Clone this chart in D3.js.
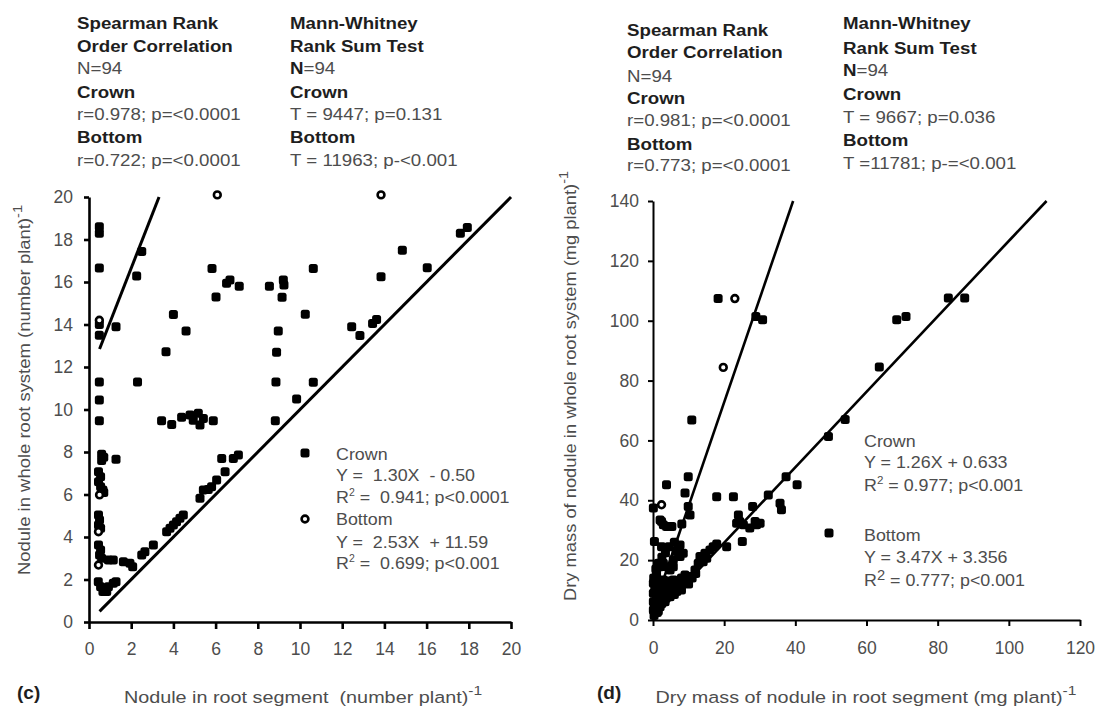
<!DOCTYPE html>
<html>
<head>
<meta charset="utf-8">
<script src="https://cdn.jsdelivr.net/npm/d3@7"></script>
<style>
  body { margin: 0; background: #fff; }
  text { font-family: Arial, "Liberation Sans", sans-serif; }
</style>
</head>
<body>
<script>
// ---- panel (c): nodule number ----
var cTicks = [0, 2, 4, 6, 8, 10, 12, 14, 16, 18, 20];
// filled markers (Crown)
var cCrown = [
  [0.49,18.6],[0.49,18.3],[0.49,16.66],[0.49,14.0],[0.49,13.5],[0.49,11.3],[0.49,10.45],[0.49,9.47],
  [1.28,13.9],[2.26,16.28],[2.5,17.43],[2.3,11.3],
  [5.83,16.64],[6.02,15.3],[6.52,15.94],[6.68,16.1],[7.12,15.8],[8.55,15.8],[9.21,16.1],[9.24,15.86],
  [9.15,15.28],[8.97,13.7],[8.89,12.7],[8.86,11.3],[8.83,9.47],[9.84,10.49],
  [3.65,12.72],[4.0,14.47],[4.6,13.7],
  [3.44,9.47],[3.92,9.3],[4.39,9.63],[4.79,9.74],[4.94,9.5],[5.18,9.82],[5.26,9.27],[5.42,9.58],[5.89,9.47],
  [14.85,17.5],[10.63,16.64],[13.84,16.25],[16.03,16.67],[17.6,18.3],[17.93,18.56],[10.25,14.48],
  [12.45,13.9],[12.84,13.48],[13.44,14.05],[13.63,14.24],[10.63,11.28],
  [0.6,7.9],[0.7,7.75],[0.6,7.6],[1.28,7.66],
  [0.45,7.07],[0.55,6.84],[0.45,6.6],[0.55,6.37],[0.66,6.21],[0.7,6.09],
  [0.45,5.04],[0.5,4.8],[0.45,4.56],[0.55,4.41],
  [0.45,3.62],[0.55,3.39],[0.5,3.15],[0.6,3.0],[0.92,2.92],[1.15,2.92],
  [0.44,1.9],[0.55,1.66],[0.66,1.43],[0.92,1.66],[1.15,1.82],[1.28,1.9],[0.84,1.43],
  [1.63,2.84],[1.94,2.76],[2.07,2.6],[2.5,3.15],[2.65,3.31],[3.05,3.62],
  [3.68,4.25],[3.84,4.41],[4.0,4.56],[4.15,4.72],[4.31,4.88],[4.47,5.04],
  [5.26,5.82],[5.42,6.21],[5.65,6.24],[5.81,6.37],[6.05,6.68],[6.45,7.07],[6.29,7.7],[6.84,7.7],[7.08,7.86]
];
// open markers (Bottom)
var cBottom = [[6.08,20.1],[13.84,20.1],[0.49,14.2],[0.5,5.98],[0.45,4.25],[0.45,2.68]];
// fitted lines, end points
var cLineCrown = [[0.5,0.5],[20,20]];
var cLineBottom = [[0.5,12.85],[3.32,20]];

// ---- panel (d): nodule dry mass ----
var dxTicks = [0, 20, 40, 60, 80, 100, 120];
var dyTicks = [0, 20, 40, 60, 80, 100, 120, 140];
var dCrown = [
  [18.3,107.4],[28.9,101.4],[30.8,100.3],[10.9,66.8],
  [3.8,45.2],[9.9,47.9],[9.0,42.4],[0.1,37.4],[10.4,35.1],[8.1,32.1],[9.9,37.9],
  [2.4,32.9],[3.8,31.2],[2.9,31.8],[5.3,31.2],[2.0,33.4],[0.4,26.2],[2.4,24.5],
  [7.6,25.1],[7.1,22.8],[8.5,22.3],[7.6,21.2],[5.7,20.1],[3.8,17.8],[2.9,19.0],[4.8,16.7],[5.7,17.8],
  [17.9,41.2],[22.6,41.2],[24.0,35.1],[25.1,26.2],[28.0,37.9],
  [23.5,32.3],[24.4,32.9],[25.4,31.8],[27.2,30.7],[29.1,31.8],[30.1,32.3],[28.7,32.9],
  [35.7,39.0],[36.1,36.8],[32.4,41.8],[37.4,47.9],[40.5,45.2],
  [49.3,61.3],[54,67],[63.6,84.5],[68.5,100.3],[71.1,101.4],[83,107.6],[87.6,107.6],
  [13.2,21.2],[14.6,22.3],[16,23.4],[16.9,24.5],[17.9,25.4],[20.7,24.5],[12.7,19.0],[11.8,16.7],
  [10.4,14.5],[9,12.3],[7.6,11.1],[6.7,9.5],[4.8,7.8],[3.4,6.1],[2.0,4.4],[0.6,2.8],[14.1,19.5],[15.1,20.6],
  [0.1,12.3],[1,11.1],[2.9,13.4],[5.7,13.4],[7.6,13.4],[9.5,13.9],[3.8,11.1],[5.7,11.1],
  [0.1,8.9],[1.5,8.9],[0.1,6.1],[0.1,3.3],[1.0,15.6],[2,17.8],
  [1.5,5.2],[3,9],[4.5,10],[6,8.5],[8,10],[10,12],[11,14],[12,15.5],[2,7],[0.5,10],[1,13.5],[0.3,1.5],[1.2,2.5],
  [0.5,5],[1,7],[2,10],[3,11.5],[4,13],[4,9],[5,10.5],[6,12],[7,12.5],[8,14],[9,15],[1.5,3],[2.5,5.5],
  [3.5,7.5],[5,9],[6.5,10.5],[0.2,14],[0.8,17],[1.5,19],[2.5,21],[3.5,22.5],[4.5,24.5],[6,26],[6.5,23]
];
var dBottom = [[23.0,107.4],[19.75,84.4],[2.4,38.5]];
var dLineCrown = [[0,0.633],[110.6,140]];
var dLineBottom = [[0,3.356],[39.38,140]];

var svg = d3.select("body").append("svg")
  .attr("width", 1104).attr("height", 709);

var grey = "#4d4d4d", dark = "#1e1e1e";

function panel(opt) {
  var x = d3.scaleLinear().domain(opt.xd).range(opt.xr);
  var y = d3.scaleLinear().domain(opt.yd).range(opt.yr);
  var g = svg.append("g");

  var ax = g.append("g").attr("transform", `translate(0,${opt.yr[0]})`)
    .call(d3.axisBottom(x).tickValues(opt.xt).tickSize(opt.xts).tickSizeOuter(0).tickPadding(opt.xpad));
  var ay = g.append("g").attr("transform", `translate(${opt.xr[0]},0)`)
    .call(d3.axisLeft(y).tickValues(opt.yt).tickSize(5).tickSizeOuter(0).tickPadding(opt.ypad));
  [ax, ay].forEach(function(a) {
    a.select(".domain").attr("stroke", "#000").attr("stroke-width", opt.aw);
    a.selectAll(".tick line").attr("stroke", "#000").attr("stroke-width", opt.aw);
    a.selectAll(".tick text").attr("fill", grey).attr("font-size", 17.5)
      .attr("font-family", "Arial, 'Liberation Sans', sans-serif");
  });

  var line = d3.line().x(d => x(d[0])).y(d => y(d[1]));
  [opt.l1, opt.l2].forEach(function(l) {
    g.append("path").attr("d", line(l)).attr("fill", "none")
      .attr("stroke", "#000").attr("stroke-width", opt.lw);
  });

  g.selectAll(".pf").data(opt.filled).enter().append("rect")
    .attr("x", d => x(d[0]) - 4.5).attr("y", d => y(d[1]) - 4.5)
    .attr("width", 9).attr("height", 9).attr("rx", 2.5).attr("fill", "#000");
  g.selectAll(".po").data(opt.open).enter().append("circle")
    .attr("cx", d => x(d[0])).attr("cy", d => y(d[1])).attr("r", 3.4)
    .attr("fill", "#fff").attr("stroke", "#000").attr("stroke-width", 2.6);
  return {x: x, y: y};
}

panel({xd: [0, 20], xr: [89, 511], yd: [0, 20], yr: [622, 197], xt: cTicks, yt: cTicks,
  xts: 7, xpad: 14, ypad: 11, aw: 2.6, lw: 3, l1: cLineCrown, l2: cLineBottom,
  filled: cCrown, open: cBottom});
panel({xd: [0, 120], xr: [653, 1080], yd: [0, 140], yr: [620, 201], xt: dxTicks, yt: dyTicks,
  xts: 6, xpad: 16, ypad: 9, aw: 2, lw: 2.6, l1: dLineCrown, l2: dLineBottom,
  filled: dCrown, open: dBottom});

// text helper; the source figure's lettering is a little wider than Arial, hence sx
function block(x, ys, items, sx) {
  items.forEach(function(it, i) {
    var t = svg.append("text").attr("font-size", 17)
      .attr("transform", `translate(${x},${ys[i]}) scale(${sx},1)`)
      .attr("xml:space", "preserve").style("white-space", "pre");
    it.forEach(function(p) {
      var s = t.append("tspan").text(p.t)
        .attr("fill", p.b ? dark : grey).attr("font-weight", p.b ? "bold" : "normal");
      if (p.sup) s.attr("font-size", p.sup).attr("dy", p.dy || -7);
      if (p.down) s.attr("dy", p.down);
    });
  });
}
var B = t => ({t: t, b: true}), N = t => ({t: t});

var cStatY = [29, 52, 74, 98, 120, 143, 166];
block(77, cStatY, [[B("Spearman Rank")], [B("Order Correlation")], [N("N=94")], [B("Crown")],
  [N("r=0.978; p=<0.0001")], [B("Bottom")], [N("r=0.722; p=<0.0001")]], 1.1);
block(290, cStatY, [[B("Mann-Whitney")], [B("Rank Sum Test")], [B("N"), N("=94")], [B("Crown")],
  [N("T = 9447; p=0.131")], [B("Bottom")], [N("T = 11963; p-<0.001")]], 1.1);
block(627, [36, 58, 82, 104, 126, 150, 171], [[B("Spearman Rank")], [B("Order Correlation")], [N("N=94")], [B("Crown")],
  [N("r=0.981; p=<0.0001")], [B("Bottom")], [N("r=0.773; p=<0.0001")]], 1.1);
block(843, [29, 54, 76, 100, 123, 146, 169], [[B("Mann-Whitney")], [B("Rank Sum Test")], [B("N"), N("=94")], [B("Crown")],
  [N("T = 9667; p=0.036")], [B("Bottom")], [N("T =11781; p-=<0.001")]], 1.1);

// legends
block(336, [460, 481, 503, 525, 548, 569], [[N("Crown")], [N("Y =  1.30X  - 0.50")],
  [N("R"), {t: "2", sup: 10}, {t: " =  0.941; p<0.0001", down: 7}], [N("Bottom")], [N("Y =  2.53X  + 11.59")],
  [N("R"), {t: "2", sup: 10}, {t: " =  0.699; p<0.001", down: 7}]], 1.05);
svg.append("rect").attr("x", 300.5).attr("y", 448.5).attr("width", 9).attr("height", 9).attr("rx", 2.5);
svg.append("circle").attr("cx", 305).attr("cy", 519).attr("r", 3.4).attr("fill", "#fff")
  .attr("stroke", "#000").attr("stroke-width", 2.6);

block(864, [447, 468, 491, 541, 563, 586], [[N("Crown")], [N("Y = 1.26X + 0.633")],
  [N("R"), {t: "2", sup: 11}, {t: " = 0.977; p<0.001", down: 7}], [N("Bottom")], [N("Y = 3.47X + 3.356")],
  [N("R"), {t: "2", sup: 14, dy: -6}, {t: " = 0.777; p<0.001", down: 6}]], 1.05);
svg.append("rect").attr("x", 824.5).attr("y", 528.5).attr("width", 9).attr("height", 9).attr("rx", 2.5);

// axis titles
function title(x, y, txt, rot, sx) {
  var t = svg.append("text").attr("font-size", 16.5).attr("fill", grey)
    .attr("text-anchor", "middle").attr("xml:space", "preserve").style("white-space", "pre")
    .attr("transform", `translate(${x},${y})` + (rot ? " rotate(-90)" : "") + ` scale(${sx},1)`);
  t.append("tspan").text(txt);
  t.append("tspan").text("-1").attr("font-size", 13).attr("dy", -8);
}
title(303, 703, "Nodule in root segment  (number plant)", false, 1.2);
title(866, 703, "Dry mass of nodule in root segment (mg plant)", false, 1.2);
title(30, 390, "Nodule in whole root system (number plant)", true, 1.12);
title(576, 386, "Dry mass of nodule in whole root system (mg plant)", true, 1.11);

svg.append("text").attr("x", 17).attr("y", 699).attr("font-size", 19).attr("font-weight", "bold")
  .attr("fill", dark).text("(c)");
svg.append("text").attr("x", 597).attr("y", 699).attr("font-size", 19).attr("font-weight", "bold")
  .attr("fill", dark).text("(d)");
</script>
</body>
</html>
